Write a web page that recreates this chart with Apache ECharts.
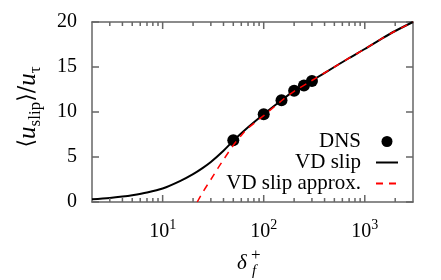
<!DOCTYPE html>
<html><head><meta charset="utf-8">
<script src="https://cdn.jsdelivr.net/npm/echarts@6/dist/echarts.min.js"></script>
<style>html,body{margin:0;padding:0;background:#fff}#c{width:441px;height:280px}</style>
</head><body><div id="c"></div>
<script>
// ---- data ----
const dnsX = [50, 100, 150, 200, 250, 300];
const dnsY = [6.85, 9.75, 11.3, 12.35, 12.95, 13.45];
const vdX = [2, 3, 4, 5, 7, 10, 15, 20, 25, 30, 40, 50, 70, 100, 150, 200, 300, 500, 700, 1000, 1500, 2000, 3000];
const vdY = [0.3, 0.45, 0.6, 0.75, 1.05, 1.5, 2.35, 3.1, 3.8, 4.45, 5.7, 6.8, 8.3, 9.75, 11.3, 12.35, 13.5, 15.0, 16.0, 17.0, 18.2, 19.0, 20.0];
const apprX = [22, 25, 30, 35, 40, 50, 60, 70, 100, 150, 200, 300, 500, 700, 1000, 1500, 2000, 3000];
const apprY = [0, 1.1, 2.5, 3.7, 4.7, 6.3, 7.4, 8.2, 9.6, 11.25, 12.3, 13.5, 15.0, 16.0, 17.0, 18.2, 19.0, 20.0];
const xMajorTicks = [10, 100, 1000];
const xMinorTicks = [3,4,5,6,7,8,9,20,30,40,50,60,70,80,90,200,300,400,500,600,700,800,900,2000];
const xRange = [2, 3000];
const yRange = [0, 20];
const yInterval = 5;

const FONT = 'Liberation Serif';
const AX = '#666666';
const chart = echarts.init(document.getElementById('c'), null, {renderer: 'canvas'});

const xLabelFmt = v => {
  const l = Math.log10(v), e = Math.round(l);
  if (Math.abs(l - e) > 1e-6) return '';
  return '{b|10}{s|' + e + '}';
};
const xRich = {
  b: {fontFamily: FONT, fontSize: 20, color: '#000', lineHeight: 24, verticalAlign: 'bottom'},
  s: {fontFamily: FONT, fontSize: 14, color: '#000', lineHeight: 22, verticalAlign: 'top'}
};

// tick marks drawn as thin rect symbols at axis values (bottom edge pointing up, top edge pointing down)
const tickSeries = (vals, len) => [
  {type: 'scatter', silent: true, clip: false, z: 6, symbol: 'rect',
   symbolSize: [1.5, len], symbolOffset: [0, -len / 2],
   data: vals.map(v => [v, yRange[0]]), itemStyle: {color: AX, opacity: 1}},
  {type: 'scatter', silent: true, clip: false, z: 6, symbol: 'rect',
   symbolSize: [1.5, len], symbolOffset: [0, len / 2],
   data: vals.map(v => [v, yRange[1]]), itemStyle: {color: AX, opacity: 1}}
];

chart.setOption({
  animation: false,
  backgroundColor: '#fff',
  grid: {left: 92, right: 28, top: 22, bottom: 78},
  xAxis: [
    {type: 'log', logBase: 10, min: xRange[0], max: xRange[1], position: 'bottom',
     axisLine: {onZero: false, lineStyle: {color: AX, width: 1.5}},
     axisTick: {show: false},
     axisLabel: {formatter: xLabelFmt, rich: xRich, margin: 16},
     splitLine: {show: false}},
    {type: 'log', logBase: 10, min: xRange[0], max: xRange[1], position: 'top',
     axisLine: {onZero: false, lineStyle: {color: AX, width: 1.5}},
     axisTick: {show: false},
     axisLabel: {show: false}, splitLine: {show: false}}
  ],
  yAxis: [
    {type: 'value', min: yRange[0], max: yRange[1], interval: yInterval, position: 'left',
     axisLine: {show: true, onZero: false, lineStyle: {color: AX, width: 1.5}},
     axisTick: {show: true, inside: true, length: 7, lineStyle: {color: AX, width: 1.5}},
     axisLabel: {fontFamily: FONT, fontSize: 20, color: '#000', margin: 15},
     splitLine: {show: false}},
    {type: 'value', min: yRange[0], max: yRange[1], interval: yInterval, position: 'right',
     axisLine: {show: true, onZero: false, lineStyle: {color: AX, width: 1.5}},
     axisTick: {show: true, inside: true, length: 7, lineStyle: {color: AX, width: 1.5}},
     axisLabel: {show: false}, splitLine: {show: false}}
  ],
  legend: {
    orient: 'vertical', align: 'right', right: 42, top: 131, padding: 0,
    itemWidth: 22, itemHeight: 11, itemGap: 0, selectedMode: false,
    data: [
      {name: 'DNS'},
      {name: 'VD slip', itemStyle: {opacity: 0}},
      {name: 'VD slip approx.', itemStyle: {opacity: 0}}
    ],
    textStyle: {fontFamily: FONT, fontSize: 21, color: '#000', lineHeight: 21, padding: [0, 10, 0, 0]}
  },
  graphic: [
    {type: 'text', x: 30, y: 107, rotation: Math.PI / 2,
     style: {
       text: '{t|⟨}{i|u}{s|slip}{t|⟩/}{i|u}{s|τ}',
       align: 'center', verticalAlign: 'middle',
       rich: {
         t: {fontFamily: 'DejaVu Serif', fontSize: 22, fill: '#000', lineHeight: 28, verticalAlign: 'top'},
         i: {fontFamily: FONT, fontStyle: 'italic', fontSize: 25, fill: '#000', lineHeight: 28, verticalAlign: 'top'},
         s: {fontFamily: FONT, fontSize: 17, fill: '#000', lineHeight: 17, verticalAlign: 'bottom'}
       }
     }},
    {type: 'text', left: 237, top: 253, style: {text: 'δ', font: 'italic 21px "Liberation Serif"', fill: '#000'}},
    {type: 'text', left: 251, top: 247, style: {text: '+', font: '17px "Liberation Serif"', fill: '#000'}},
    {type: 'text', left: 252, top: 264, style: {text: 'f', font: 'italic 15px "Liberation Serif"', fill: '#000'}}
  ],
  series: [
    ...tickSeries(xMinorTicks, 4),
    ...tickSeries(xMajorTicks, 7),
    {name: 'VD slip', type: 'line', symbol: 'none', smooth: 0.3, z: 3,
     data: vdX.map((x, i) => [x, vdY[i]]),
     lineStyle: {color: '#000', width: 2}, itemStyle: {color: '#000'}},
    {name: 'DNS', type: 'scatter', symbol: 'circle', symbolSize: 12, z: 4,
     data: dnsX.map((x, i) => [x, dnsY[i]]),
     itemStyle: {color: '#000', opacity: 1}},
    {name: 'VD slip approx.', type: 'line', symbol: 'none', smooth: 0.3, z: 5,
     data: apprX.map((x, i) => [x, apprY[i]]),
     lineStyle: {color: '#ff0000', width: 1.5, type: [7, 6]}, itemStyle: {color: '#ff0000'}}
  ]
});
</script></body></html>
